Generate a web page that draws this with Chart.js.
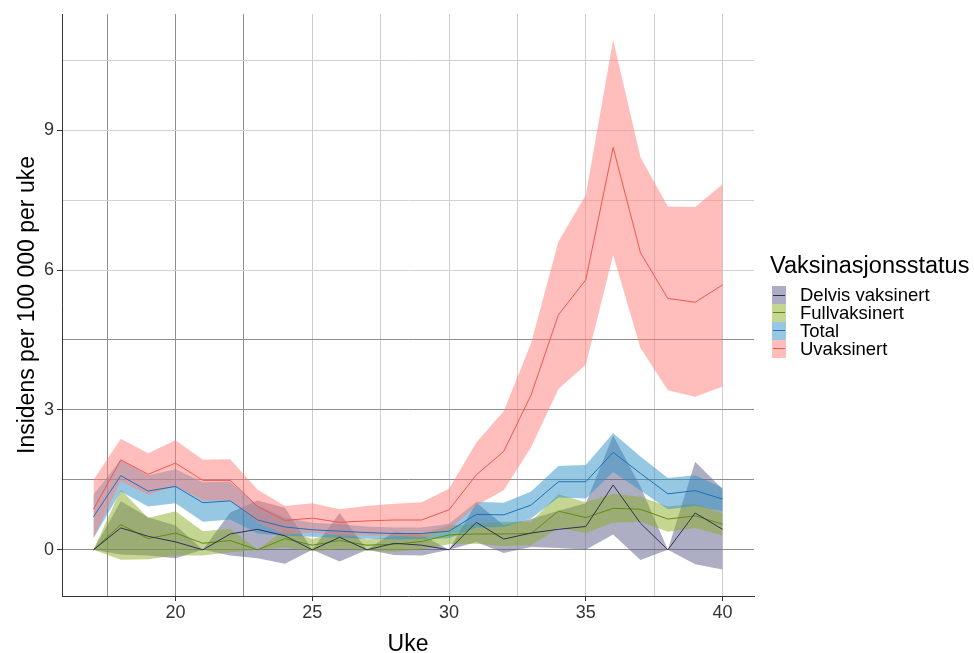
<!DOCTYPE html>
<html>
<head>
<meta charset="utf-8">
<script src="https://cdn.jsdelivr.net/npm/chart.js@4.4.1/dist/chart.umd.min.js"></script>
<style>
  html, body { margin: 0; padding: 0; background: #fff; }
  #wrap { position: relative; width: 974px; height: 653px; font-family: 'Liberation Sans', Arial, sans-serif; }
  #legend { position: absolute; left: 770px; top: 251px; color: #000; }
  #legend .title { font-size: 23.5px; line-height: 28px; height: 28px; white-space: nowrap; }
  #legend .items { margin-top: 7px; }
  #legend .item { position: relative; height: 17.9px; line-height: 17.9px; font-size: 18.5px; white-space: nowrap; }
  #legend .sw { position: absolute; left: 2px; top: 0; width: 14px; height: 17.9px; }
  #legend .sw i { position: absolute; left: 1px; right: 1px; top: 8.5px; height: 1px; display: block; }
  #legend .lab { position: absolute; left: 30px; top: 0; }
</style>
</head>
<body>
<div id="wrap">
  <canvas id="c" width="974" height="653"></canvas>
  <div id="legend"></div>
</div>
<script>
// ---------- data ----------
const weeks = [17,18,19,20,21,22,23,24,25,26,27,28,29,30,31,32,33,34,35,36,37,38,39,40];

const seriesNames = ['Delvis vaksinert','Fullvaksinert','Total','Uvaksinert'];

const delvis   = [0,0.47,0.29,0.17,0,0.34,0.44,0.30,0,0.27,0,0.14,0.10,0,0.59,0.23,0.36,0.44,0.50,1.39,0.57,0,0.79,0.44];
const delvisLo = [0,-0.10,-0.12,-0.18,0,-0.12,-0.18,-0.30,0,-0.25,0,-0.11,-0.12,0,0.17,-0.07,0.06,0.04,0,0.33,-0.22,0,-0.31,-0.42];
const delvisHi = [0,1.04,0.70,0.52,0,0.80,1.06,0.90,0,0.79,0,0.39,0.32,0,1.01,0.53,0.66,0.84,1.00,2.45,1.36,0,1.89,1.30];

const full   = [0,0.54,0.24,0.36,0.14,0.20,0,0.24,0.10,0.20,0.10,0.12,0.18,0.32,0.34,0.34,0.35,0.83,0.69,0.89,0.87,0.66,0.73,0.55];
const fullLo = [0,-0.21,-0.20,-0.12,-0.12,-0.05,0,0.05,-0.03,0.02,-0.02,-0.04,0.01,0.12,0.13,0.08,0.10,0.47,0.36,0.58,0.60,0.39,0.47,0.31];
const fullHi = [0,1.29,0.68,0.83,0.40,0.45,0,0.43,0.23,0.38,0.22,0.28,0.35,0.52,0.56,0.60,0.60,1.19,1.02,1.20,1.14,0.93,0.99,0.79];

const total   = [0.71,1.59,1.26,1.36,1.01,1.05,0.64,0.49,0.43,0.40,0.37,0.35,0.35,0.40,0.76,0.75,0.96,1.46,1.46,2.09,1.64,1.20,1.27,1.09];
const totalLo = [0.25,1.25,0.93,1.00,0.60,0.65,0.35,0.30,0.28,0.26,0.24,0.22,0.23,0.25,0.48,0.49,0.67,1.12,1.10,1.67,1.27,0.87,0.94,0.83];
const totalHi = [1.18,1.93,1.60,1.73,1.45,1.46,0.95,0.69,0.58,0.55,0.50,0.48,0.48,0.56,1.03,1.01,1.25,1.80,1.82,2.50,2.00,1.54,1.60,1.33];

const uvaks   = [0.87,1.93,1.62,1.86,1.49,1.49,0.93,0.63,0.68,0.59,0.62,0.64,0.64,0.86,1.61,2.11,3.32,5.04,5.79,8.63,6.37,5.39,5.31,5.68];
const uvaksLo = [0.25,1.47,1.18,1.37,1.06,1.05,0.58,0.33,0.37,0.31,0.31,0.30,0.27,0.42,0.95,1.28,2.20,3.45,3.97,6.32,4.33,3.42,3.28,3.50];
const uvaksHi = [1.50,2.38,2.07,2.35,1.93,1.94,1.29,0.94,1.00,0.87,0.94,0.99,1.02,1.31,2.30,2.97,4.43,6.61,7.61,10.93,8.42,7.36,7.35,7.84];

const xGridValues = [17.5,20,22.5,25,27.5,30,32.5,35,37.5,40];
const yGridValues = [0,1.5,3,4.5,6,7.5,9,10.5];

// ---------- styles ----------
const lineColors = ['#2E2F55','#5E8C0E','#1F70B5','#F0564C'];
const fillColors = ['rgba(92,94,138,0.5)','rgba(138,174,38,0.5)','rgba(48,146,200,0.5)','rgba(255,126,120,0.5)'];
const FONT = "'Liberation Sans', Arial, sans-serif";

const seriesData = [
  [delvis, delvisLo, delvisHi],
  [full, fullLo, fullHi],
  [total, totalLo, totalHi],
  [uvaks, uvaksLo, uvaksHi]
];

const pts = arr => weeks.map((w, i) => ({x: w, y: arr[i]}));

const datasets = [];
seriesData.forEach((s, k) => {
  const [v, lo, hi] = s;
  datasets.push({
    label: seriesNames[k] + ' hi', data: pts(hi), fill: '+1',
    backgroundColor: fillColors[k], borderColor: 'rgba(0,0,0,0)', borderWidth: 0,
    pointRadius: 0, tension: 0, order: 10 - k
  });
  datasets.push({
    label: seriesNames[k] + ' lo', data: pts(lo), fill: false,
    borderColor: 'rgba(0,0,0,0)', borderWidth: 0,
    pointRadius: 0, tension: 0, order: 10 - k
  });
});
seriesData.forEach((s, k) => {
  datasets.push({
    label: seriesNames[k], data: pts(s[0]), fill: false,
    borderColor: lineColors[k], borderWidth: 1, pointRadius: 0, tension: 0, order: 0
  });
});

Chart.defaults.font.family = FONT;

new Chart(document.getElementById('c'), {
  type: 'line',
  data: { datasets },
  options: {
    responsive: false,
    animation: false,
    devicePixelRatio: 1,
    layout: { padding: { left: 0, right: 220, top: 14, bottom: 0 } },
    plugins: { legend: { display: false }, tooltip: { enabled: false } },
    scales: {
      x: {
        type: 'linear', min: 15.85, max: 41.15,
        afterBuildTicks: s => { s.ticks = xGridValues.map(v => ({value: v})); },
        afterFit: s => { s.height = 57; },
        ticks: {
          autoSkip: false, maxRotation: 0, padding: 1,
          color: '#333', font: { size: 18 },
          callback: v => (v % 5 === 0 ? String(v) : '')
        },
        grid: {
          lineWidth: 1, tickLength: 5,
          color: ctx => (ctx.tick && ctx.tick.value <= 22.5 ? '#8e8e8e' : '#cdcdcd'),
          tickColor: ctx => (ctx.tick && ctx.tick.value % 5 === 0 ? '#333' : 'rgba(0,0,0,0)')
        },
        border: { display: true, color: '#333', width: 1 },
        title: { display: true, text: 'Uke', color: '#000', font: { size: 23, lineHeight: 0.7 }, padding: { top: 0, bottom: 0 } }
      },
      y: {
        type: 'linear', min: -0.99, max: 11.49,
        afterBuildTicks: s => { s.ticks = yGridValues.map(v => ({value: v})); },
        afterFit: s => { s.width = 62; },
        ticks: {
          padding: 3, color: '#333', font: { size: 18 },
          callback: v => (v % 3 === 0 ? String(v) : '')
        },
        grid: {
          lineWidth: 1, tickLength: 5,
          color: ctx => (ctx.tick && ctx.tick.value <= 4.5 ? '#8e8e8e' : '#d2d2d2'),
          tickColor: ctx => (ctx.tick && ctx.tick.value % 3 === 0 ? '#333' : 'rgba(0,0,0,0)')
        },
        border: { display: true, color: '#333', width: 1 },
        title: { display: true, text: 'Insidens per 100 000 per uke', color: '#000', font: { size: 23, lineHeight: 1.2 }, padding: { top: 14, bottom: 0 } }
      }
    }
  }
});

// ---------- legend (HTML) ----------
const lg = document.getElementById('legend');
let html = '<div class="title">Vaksinasjonsstatus</div><div class="items">';
seriesNames.forEach((n, k) => {
  html += '<div class="item"><span class="sw" style="background:' + fillColors[k] + '"><i style="background:' + lineColors[k] + '"></i></span><span class="lab">' + n + '</span></div>';
});
html += '</div>';
lg.innerHTML = html;
</script>
</body>
</html>
